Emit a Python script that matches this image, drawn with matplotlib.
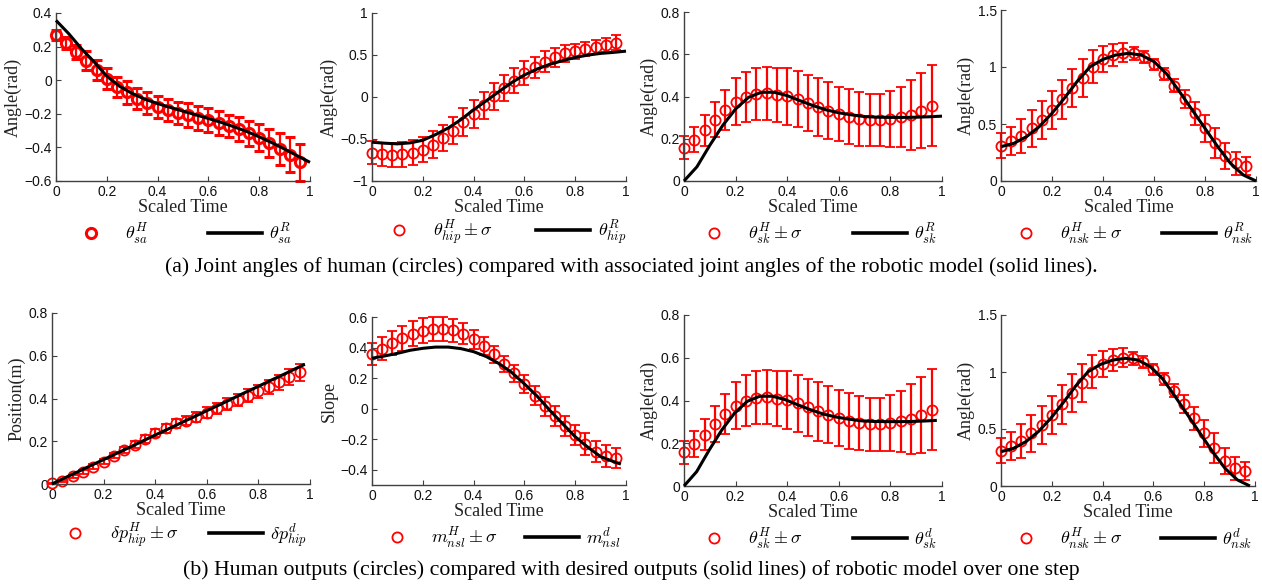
import numpy as np
import matplotlib
matplotlib.use("Agg")
import matplotlib.pyplot as plt
from matplotlib.lines import Line2D

# ---------------- data ----------------
t_pts = [0.00, 0.04, 0.08, 0.12, 0.16, 0.20, 0.24, 0.28, 0.32, 0.36, 0.40, 0.44,
         0.48, 0.52, 0.56, 0.60, 0.64, 0.68, 0.72, 0.76, 0.80, 0.84, 0.88, 0.92, 0.96]
t_line_top = [0.00, 0.05, 0.10, 0.15, 0.20, 0.25, 0.30, 0.35, 0.40, 0.45, 0.50,
              0.55, 0.60, 0.65, 0.70, 0.75, 0.80, 0.85, 0.90, 0.95, 1.00]
t_line_bot = [0.00, 0.05, 0.10, 0.15, 0.20, 0.25, 0.30, 0.35, 0.40, 0.45, 0.50,
              0.55, 0.60, 0.65, 0.70, 0.75, 0.80, 0.85, 0.90, 0.95, 0.98]
t_line_bot_sc = [0.000, 0.049, 0.098, 0.147, 0.196, 0.245, 0.294, 0.343, 0.392, 0.441, 0.490,
                 0.539, 0.588, 0.637, 0.686, 0.735, 0.784, 0.833, 0.882, 0.931, 0.980]

# (1) stance ankle
sa_H = [0.267, 0.222, 0.168, 0.115, 0.063, 0.010, -0.040, -0.073, -0.109, -0.135, -0.158, -0.178,
        -0.194, -0.208, -0.224, -0.238, -0.253, -0.273, -0.293, -0.317, -0.343, -0.376, -0.410, -0.445, -0.489]
sa_sd = [0.030, 0.037, 0.043, 0.057, 0.060, 0.060, 0.062, 0.066, 0.062, 0.066, 0.066, 0.067,
         0.067, 0.070, 0.070, 0.070, 0.071, 0.066, 0.071, 0.074, 0.081, 0.084, 0.097, 0.104, 0.109]
sa_R = [0.356, 0.277, 0.188, 0.109, 0.024, -0.036, -0.079, -0.113, -0.139, -0.162, -0.184,
        -0.206, -0.228, -0.251, -0.277, -0.305, -0.337, -0.372, -0.410, -0.450, -0.489]

# (2) hip
hip_H = [-0.665, -0.684, -0.692, -0.684, -0.665, -0.625, -0.566, -0.487, -0.400, -0.302, -0.200, -0.097,
         0.006, 0.105, 0.195, 0.282, 0.353, 0.420, 0.471, 0.519, 0.546, 0.570, 0.598, 0.617, 0.645]
hip_sd = [0.138, 0.142, 0.144, 0.146, 0.150, 0.154, 0.158, 0.158, 0.164, 0.168, 0.168, 0.162,
          0.158, 0.158, 0.148, 0.144, 0.128, 0.122, 0.108, 0.099, 0.089, 0.083, 0.083, 0.083, 0.089]
hip_R = [-0.538, -0.550, -0.558, -0.546, -0.515, -0.448, -0.369, -0.270, -0.152, -0.045, 0.065,
         0.172, 0.262, 0.333, 0.389, 0.432, 0.471, 0.499, 0.519, 0.531, 0.546]

# (3) stance knee
sk_H = [0.157, 0.196, 0.240, 0.290, 0.337, 0.376, 0.399, 0.412, 0.415, 0.409, 0.401, 0.387,
        0.369, 0.349, 0.333, 0.318, 0.305, 0.294, 0.290, 0.290, 0.294, 0.302, 0.313, 0.333, 0.357]
sk_sd = [0.055, 0.059, 0.072, 0.083, 0.095, 0.110, 0.119, 0.124, 0.127, 0.128, 0.135, 0.133,
         0.133, 0.137, 0.134, 0.129, 0.130, 0.127, 0.124, 0.124, 0.131, 0.141, 0.164, 0.178, 0.190]
sk_R = [0.000, 0.067, 0.169, 0.263, 0.341, 0.396, 0.420, 0.420, 0.404, 0.380, 0.357,
        0.337, 0.323, 0.313, 0.305, 0.302, 0.301, 0.301, 0.302, 0.304, 0.307]

# (4) non-stance knee
nsk_H = [0.310, 0.354, 0.395, 0.462, 0.535, 0.623, 0.716, 0.813, 0.906, 1.003, 1.067, 1.105,
         1.126, 1.120, 1.085, 1.023, 0.939, 0.836, 0.719, 0.594, 0.462, 0.330, 0.219, 0.155, 0.132]
nsk_sd = [0.110, 0.124, 0.146, 0.161, 0.168, 0.170, 0.172, 0.168, 0.168, 0.143, 0.114, 0.098,
          0.082, 0.056, 0.051, 0.051, 0.051, 0.056, 0.077, 0.102, 0.117, 0.132, 0.117, 0.102, 0.080]
nsk_R = [0.301, 0.330, 0.389, 0.477, 0.594, 0.731, 0.877, 1.003, 1.067, 1.105, 1.120,
         1.105, 1.047, 0.939, 0.784, 0.623, 0.462, 0.301, 0.155, 0.053, 0.000]

# (5) hip position
php_H = [0.003, 0.016, 0.036, 0.058, 0.081, 0.105, 0.133, 0.159, 0.184, 0.211, 0.238, 0.261,
         0.284, 0.297, 0.313, 0.333, 0.355, 0.375, 0.391, 0.414, 0.433, 0.453, 0.477, 0.500, 0.523]
php_sd = [0.003, 0.005, 0.007, 0.009, 0.011, 0.012, 0.013, 0.015, 0.016, 0.018, 0.020, 0.021,
          0.022, 0.023, 0.024, 0.025, 0.026, 0.027, 0.028, 0.029, 0.031, 0.033, 0.035, 0.037, 0.039]
php_d = [0.000, 0.029, 0.057, 0.086, 0.114, 0.143, 0.171, 0.200, 0.229, 0.257, 0.286,
         0.314, 0.343, 0.371, 0.400, 0.429, 0.457, 0.486, 0.514, 0.543, 0.560]

# (6) non-stance slope
nsl_H = [0.356, 0.393, 0.427, 0.460, 0.490, 0.511, 0.522, 0.522, 0.514, 0.490, 0.453, 0.410,
         0.356, 0.295, 0.231, 0.162, 0.086, 0.017, -0.048, -0.113, -0.173, -0.232, -0.281, -0.309, -0.324]
nsl_sd = [0.073, 0.077, 0.079, 0.083, 0.081, 0.081, 0.079, 0.079, 0.076, 0.068, 0.065, 0.062,
          0.054, 0.052, 0.054, 0.059, 0.060, 0.062, 0.065, 0.067, 0.067, 0.070, 0.070, 0.070, 0.065]
nsl_d = [0.330, 0.345, 0.362, 0.382, 0.395, 0.403, 0.403, 0.393, 0.373, 0.341, 0.295,
         0.237, 0.162, 0.082, -0.011, -0.098, -0.184, -0.253, -0.314, -0.346, -0.363]

caption_a = "(a) Joint angles of human (circles) compared with associated joint angles of the robotic model (solid lines)."
caption_b = "(b) Human outputs (circles) compared with desired outputs (solid lines) of robotic model over one step"

# ---------------- style ----------------
plt.rcParams["mathtext.fontset"] = "cm"
plt.rcParams["font.family"] = ["Liberation Sans", "DejaVu Sans"]
SERIF = ["Liberation Serif", "DejaVu Serif"]

W, H = 1262, 585
fig = plt.figure(figsize=(W / 100, H / 100), dpi=100)


def add_ax(l, r, t, b):
    return fig.add_axes([l / W, 1 - b / H, (r - l) / W, (b - t) / H])


panels = [
    ((56, 310, 13, 181), sa_H, sa_sd, t_line_top, sa_R, (-0.6, 0.4), [-0.6, -0.4, -0.2, 0, 0.2, 0.4],
     "Angle(rad)", (r"$\theta^H_{sa}$", r"$\theta^R_{sa}$"), (0.03, 0.93), True),
    ((372, 626, 13, 181), hip_H, hip_sd, t_line_top, hip_R, (-1, 1), [-1, -0.5, 0, 0.5, 1],
     "Angle(rad)", (r"$\theta^H_{hip}\pm\sigma$", r"$\theta^R_{hip}$"), (0.0, 1.0), False),
    ((684, 942, 12, 181), sk_H, sk_sd, t_line_top, sk_R, (0, 0.8), [0, 0.2, 0.4, 0.6, 0.8],
     "Angle(rad)", (r"$\theta^H_{sk}\pm\sigma$", r"$\theta^R_{sk}$"), (0.01, 0.98), False),
    ((1001, 1256, 10, 181), nsk_H, nsk_sd, t_line_top, nsk_R, (0, 1.5), [0, 0.5, 1, 1.5],
     "Angle(rad)", (r"$\theta^H_{nsk}\pm\sigma$", r"$\theta^R_{nsk}$"), (-0.01, 0.99), False),
    ((52, 310, 313, 484), php_H, php_sd, t_line_bot, php_d, (0, 0.8), [0, 0.2, 0.4, 0.6, 0.8],
     "Position(m)", (r"$\delta p^H_{hip}\pm\sigma$", r"$\delta p^d_{hip}$"), (-0.015, 0.99), False),
    ((372, 626, 317, 485), nsl_H, nsl_sd, t_line_bot, nsl_d, (-0.5, 0.6), [-0.4, -0.2, 0, 0.2, 0.4, 0.6],
     "Slope", (r"$m^H_{nsl}\pm\sigma$", r"$m^d_{nsl}$"), (-0.01, 0.98), False),
    ((684, 942, 315, 486), sk_H, sk_sd, t_line_bot_sc, sk_R, (0, 0.8), [0, 0.2, 0.4, 0.6, 0.8],
     "Angle(rad)", (r"$\theta^H_{sk}\pm\sigma$", r"$\theta^d_{sk}$"), (0.01, 0.98), False),
    ((1001, 1255, 315, 486), nsk_H, nsk_sd, t_line_bot_sc, nsk_R, (0, 1.5), [0, 0.5, 1, 1.5],
     "Angle(rad)", (r"$\theta^H_{nsk}\pm\sigma$", r"$\theta^d_{nsk}$"), (-0.01, 0.99), False),
]


def fmt(v):
    s = ("%g" % v)
    return s.replace("-", "\u2212")


for box, yH, sd, tl, yl, ylim, yt, ylab, labs, span, bold in panels:
    ax = add_ax(*box)
    mew = 2.2 if bold else 1.3
    eb = ax.errorbar(t_pts, yH, yerr=sd, fmt="o", color="red", mfc="none", mec="red",
                     ms=7.3, mew=mew, elinewidth=1.6, capsize=3.5, capthick=1.6, zorder=2)
    for art in eb.lines[0:1] + tuple(eb.lines[1]) + tuple(eb.lines[2]):
        if art is not None:
            art.set_clip_on(False)
    ax.plot(tl, yl, color="black", lw=2.2, zorder=3, solid_capstyle="butt", clip_on=False)
    ax.set_xlim(0, 1)
    ax.set_ylim(*ylim)
    ax.set_xticks([0, 0.2, 0.4, 0.6, 0.8, 1])
    ax.set_xticklabels([fmt(v) for v in [0, 0.2, 0.4, 0.6, 0.8, 1]])
    ax.set_yticks(yt)
    ax.set_yticklabels([fmt(v) for v in yt])
    for s in ["top", "right"]:
        ax.spines[s].set_visible(False)
    for s in ["left", "bottom"]:
        ax.spines[s].set_color("0.25")
        ax.spines[s].set_linewidth(1.0)
    ax.tick_params(direction="in", length=3.5, width=0.8, color="0.25", labelsize=10,
                   pad=3, labelcolor="#111111")
    ax.set_xlabel("Scaled Time", family=SERIF, fontsize=13, labelpad=0, color="#222222")
    ax.set_ylabel(ylab, family=SERIF, fontsize=13, labelpad=2, color="#222222")
    h1 = Line2D([], [], ls="none", marker="o", color="red", mfc="none", ms=7.3, mew=mew)
    h2 = Line2D([], [], color="black", lw=2.6)
    h_px = box[3] - box[2]
    leg_y = -66 / h_px
    ax.legend([h1, h2], list(labs), ncol=2, loc="lower left", mode="expand",
              bbox_to_anchor=(span[0], leg_y, span[1] - span[0], 0.05),
              frameon=False, handlelength=3.0, handletextpad=0.4, fontsize=13,
              borderaxespad=0, borderpad=0)

fig.text(0.5, 1 - 267 / H, caption_a, ha="center", va="center", family=SERIF, fontsize=15.7)
fig.text(0.5, 1 - 570 / H, caption_b, ha="center", va="center", family=SERIF, fontsize=15.7)

fig.savefig("out.png", dpi=100)
